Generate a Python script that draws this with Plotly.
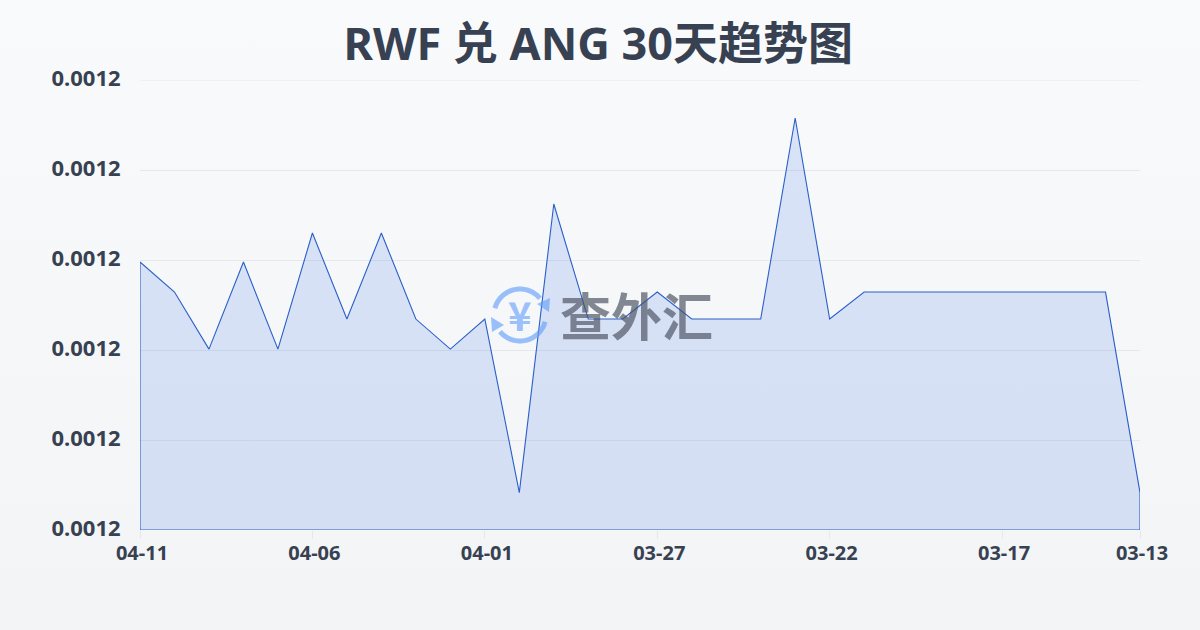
import math
import plotly.graph_objects as go

dates = ["04-11","04-10","04-09","04-08","04-07","04-06","04-05","04-04","04-03","04-02",
         "04-01","03-31","03-30","03-29","03-28","03-27","03-26","03-25","03-24","03-23",
         "03-22","03-21","03-20","03-19","03-18","03-17","03-16","03-15","03-14","03-13"]
rates = [0.00121489,0.00121322,0.00121005,0.00121489,0.00121005,0.00121650,0.00121172,0.00121650,0.00121172,0.00121005,
         0.00121172,0.00120208,0.00121811,0.00121172,0.00121172,0.00121322,0.00121172,0.00121172,0.00121172,0.00122289,
         0.00121172,0.00121322,0.00121322,0.00121322,0.00121322,0.00121322,0.00121322,0.00121322,0.00121322,0.00120208]
tick_idx = [0,5,10,15,20,25,29]
y_ticks = [0.0012,0.001205,0.00121,0.001215,0.00122,0.001225]
title = "RWF 兑 ANG 30天趋势图"
watermark = "查外汇"

W,H = 1200,630
L,R,T,B = 140,1140,80,530
idx = list(range(len(dates)))
ymin,ymax = y_ticks[0],y_ticks[-1]
FONT = "'Noto Sans','Noto Sans CJK SC',sans-serif"
TXT = "#374151"
LOGO = "rgba(96,156,250,0.62)"

def px(x): return (x-L)/(R-L)
def py(y): return (B-y)/(B-T)
def arc(cx,cy,r,a0,a1,n=40):
    pts=[(cx+r*math.cos(math.radians(a0+(a1-a0)*i/n)), cy-r*math.sin(math.radians(a0+(a1-a0)*i/n))) for i in range(n+1)]
    return "M "+" L ".join(f"{px(a):.5f} {py(b):.5f}" for a,b in pts)
def poly(pts):
    return "M "+" L ".join(f"{px(a):.5f} {py(b):.5f}" for a,b in pts)+" Z"

shapes=[
    dict(type="line",xref="paper",x0=0,x1=1,yref="y",y0=ymax,y1=ymax,layer="below",line=dict(color="#e5e7eb",width=1)),
    dict(type="path",xref="paper",yref="paper",layer="above",path=arc(520,315,26,165,40),line=dict(color=LOGO,width=5)),
    dict(type="path",xref="paper",yref="paper",layer="above",path=arc(520,315,26,-15,-140),line=dict(color=LOGO,width=5)),
    dict(type="path",xref="paper",yref="paper",layer="above",path=poly([(550,298),(549,312),(537,304)]),fillcolor=LOGO,line=dict(width=0)),
    dict(type="path",xref="paper",yref="paper",layer="above",path=poly([(491,317),(492,332),(504,325)]),fillcolor=LOGO,line=dict(width=0)),
]
annotations=[
    dict(xref="paper",yref="paper",x=px(520),y=py(314),text="<b>¥</b>",showarrow=False,xanchor="center",yanchor="middle",
         font=dict(family="'Noto Sans CJK SC'",size=40,color=LOGO)),
    dict(xref="paper",yref="paper",x=px(636),y=py(314),text=f"<b>{watermark}</b>",showarrow=False,xanchor="center",yanchor="middle",
         font=dict(family="'Noto Sans CJK SC'",size=51,color="rgba(75,82,98,0.68)")),
]

fig = go.Figure()
fig.add_trace(go.Scatter(
    x=[idx[0]]+idx+[idx[-1],idx[0]], y=[ymin]+rates+[ymin,ymin],
    mode="lines",fill="toself",fillcolor="rgba(37,99,225,0.15)",cliponaxis=False,
    line=dict(color="#2a5fc8",width=1.1),showlegend=False,hoverinfo="skip"))

fig.update_layout(
    width=W,height=H,margin=dict(l=L,r=W-R,t=T,b=H-B,pad=0),
    paper_bgcolor="rgba(0,0,0,0)",plot_bgcolor="rgba(0,0,0,0)",
    showlegend=False,shapes=shapes,annotations=annotations,
    font=dict(family=FONT,color=TXT),
    title=dict(text=f"<b>{title}</b>",x=0.4985,xanchor="center",y=0.93,yanchor="middle",
               font=dict(family=FONT,size=45,color=TXT)),
    xaxis=dict(range=[0,len(dates)-1],tickmode="array",tickvals=tick_idx,ticktext=[dates[i] for i in tick_idx],
               showgrid=False,zeroline=False,showline=False,ticks="outside",ticklen=8,tickcolor="#e5e7eb",tickwidth=1,
               ticklabelstandoff=-3,
               tickfont=dict(family=FONT,size=20,color=TXT,weight="bold")),
    yaxis=dict(range=[ymin,ymax],tickmode="array",tickvals=y_ticks,tickformat=".4f",
               showgrid=True,gridcolor="#e5e7eb",gridwidth=1,zeroline=False,showline=False,
               ticks="outside",ticklen=14,tickcolor="rgba(0,0,0,0)",
               tickfont=dict(family=FONT,size=22,color=TXT,weight="bold")),
)
post = """document.documentElement.style.margin='0';document.body.style.margin='0';
document.body.style.height='630px';document.body.style.background='linear-gradient(180deg,#f8fafc 0%,#f3f4f6 100%)';
document.querySelectorAll('.ytick text').forEach(function(t){t.setAttribute('y',(+t.getAttribute('y'))-2);});
document.querySelectorAll('.xtick text').forEach(function(t){t.setAttribute('x',(+t.getAttribute('x'))+2);});"""
fig.write_html("out.html",post_script=post,config=dict(displayModeBar=False))
